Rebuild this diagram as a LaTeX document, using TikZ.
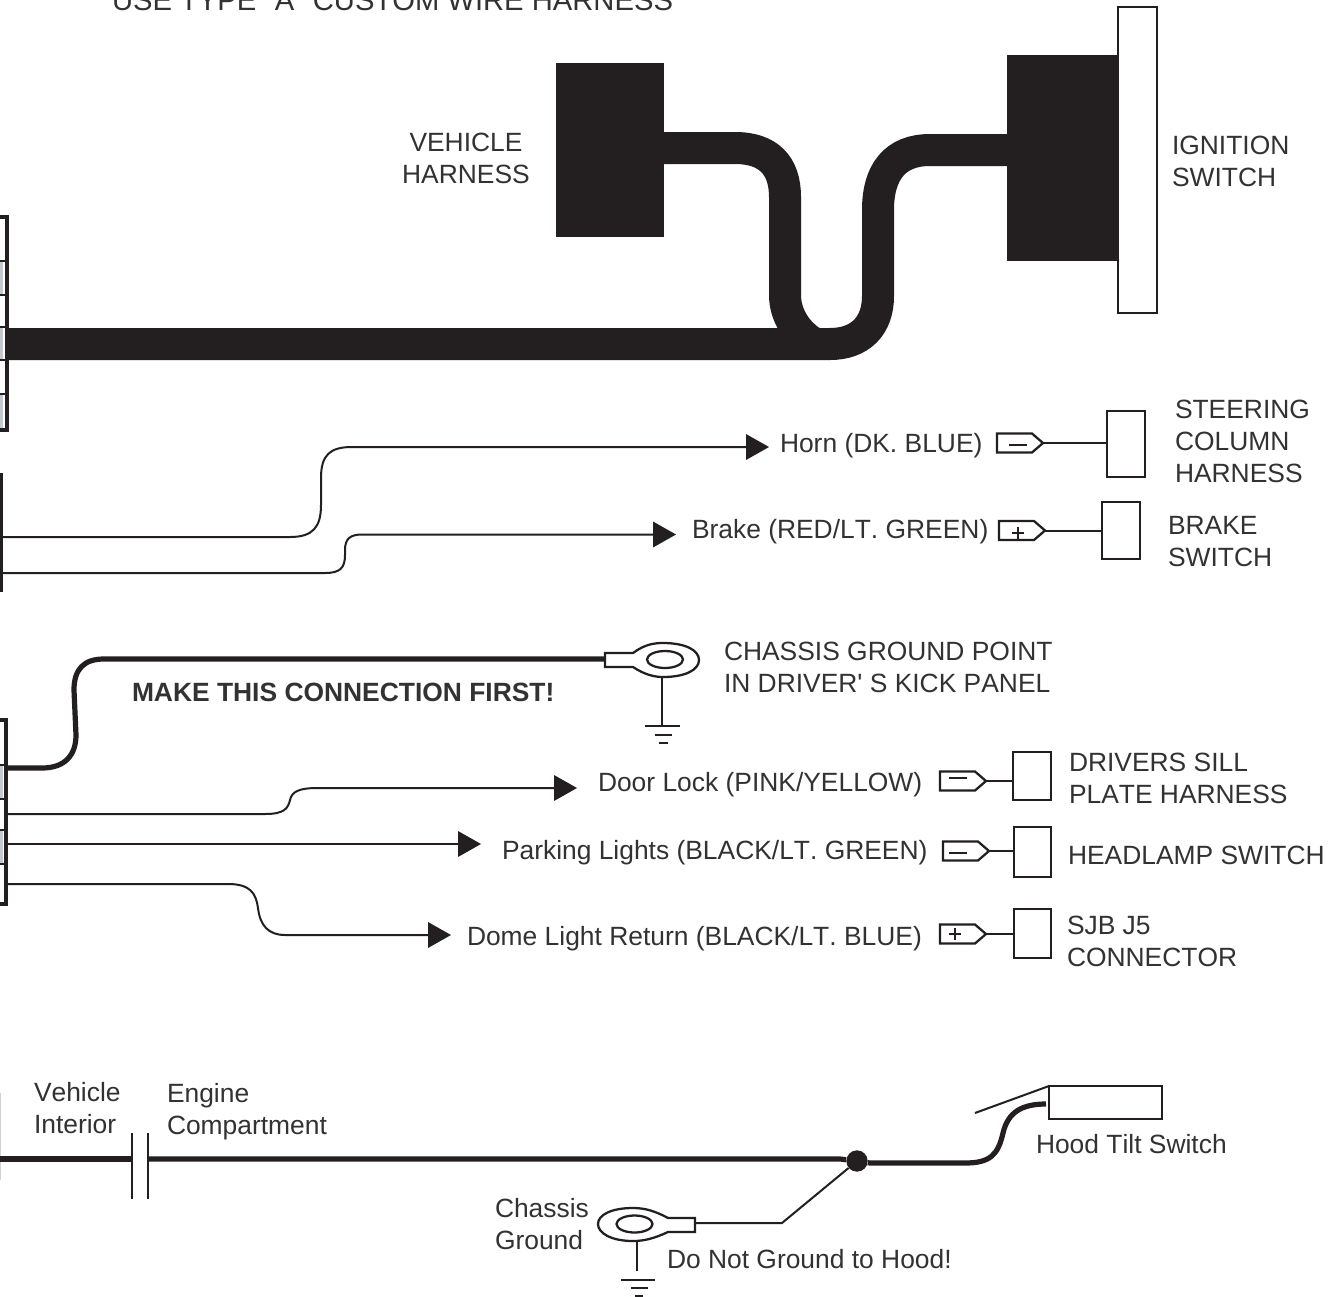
\documentclass[tikz,border=0pt]{standalone}
\usepackage{fontspec}
\setmainfont[Kerning=Off]{Liberation Sans}
\newfontfamily\plainf[Kerning=Off]{Liberation Sans}
\definecolor{ink}{HTML}{231F20}
\definecolor{txt}{HTML}{333132}
\definecolor{cell}{HTML}{C3C8D3}
\tikzset{
  lbl/.style={anchor=base west,inner sep=0pt,outer sep=0pt,align=left,text=txt,font=\fontsize{19.8}{24}\selectfont},
  wire/.style={draw=ink,line width=1.9pt},
  thin wire/.style={draw=ink,line width=1.5pt},
  fat wire/.style={draw=ink,line width=3.9pt},
  harness/.style={draw=ink,line width=24pt},
  block/.style={fill=ink,draw=none,inner sep=0pt,outer sep=0pt},
  outline/.style={draw=ink,fill=white,line width=1.8pt,inner sep=0pt,outer sep=0pt},
  arrowhd/.style={fill=ink,draw=none},
  conn/.style={draw=ink,line width=3pt},
  cellbox/.style={fill=cell,draw=none},
  sym/.style={draw=ink,line width=1.7pt,fill=white,line join=miter},
}
\newcommand{\boxnode}[5]{\node[#1,minimum width=#4*0.75pt,minimum height=#5*0.75pt] (#2) at #3 {};}
\newcommand{\plugsym}[2]{% name, tip position
  \coordinate (#1) at #2;
  \draw[sym] (#1) ++(-46,0) ++(0,-9.5) coordinate (#1a) -- ++(35,0) -- (#1) -- ++(-11,9.5) -- ++(-35,0) -- cycle;
}
\begin{document}
\begin{tikzpicture}[x=0.75pt,y=-0.75pt]
\useasboundingbox (0,0) rectangle (1340,1297);
\fill[white] (0,0) rectangle (1340,1297);

% title
\node[lbl,font=\fontsize{21.9}{24}\selectfont] (title) at (112,10) {USE TYPE {\plainf "}A{\plainf "} CUSTOM WIRE HARNESS};

% top harness
\boxnode{block}{vehicle}{(610,150)}{108}{174}
\boxnode{block}{ignblock}{(1062,158)}{110}{206}
\boxnode{outline}{ignition}{(1137.5,160)}{39}{306}
\coordinate (leftA) at (8,344);
\coordinate (vehout) at (664,148);
\coordinate (ignout) at (1007,150);
\draw[harness] (leftA) -- (830,344) .. controls (860,344) and (878,326) .. (878,296) -- (878,210)
  .. controls (878,172) and (895,150) .. (930,150) -- (ignout);
\draw[harness] (vehout) -- (735,148) .. controls (768,148) and (785,165) .. (785,197) -- (785,295)
  .. controls (785,315) and (797,334) .. (815,344);

% connector A
\fill[cellbox] (0,262) rectangle (3,295);
\fill[cellbox] (0,328) rectangle (3,360);
\fill[cellbox] (0,395) rectangle (3,428);
\draw[conn,line cap=butt] (-3,217) -- (6.5,217) -- (6.5,429.5) -- (-3,429.5);
\foreach \yy in {261,295,327,360,394}{\draw[ink,line width=1.2pt] (0,\yy) -- (5,\yy);}

% connector B
\draw[ink,line width=2pt] (1.5,473) -- (1.5,592);
\coordinate (b1) at (3,537);
\coordinate (b2) at (3,573);

% connector C
\fill[cellbox] (0,765) rectangle (3,799);
\fill[cellbox] (0,830) rectangle (3,864);
\draw[conn,line cap=butt] (-3,720) -- (6,720) -- (6,904) -- (-3,904);
\foreach \yy in {765,799,830,864}{\draw[ink,line width=1pt] (0,\yy) -- (5,\yy);}
\coordinate (c0) at (8,768);
\coordinate (c1) at (8,814);
\coordinate (c2) at (8,844);
\coordinate (c3) at (8,884);

% arrow heads
\coordinate (hornA) at (746,447);
\coordinate (brakeA) at (653,534.5);
\coordinate (doorA) at (554,788);
\coordinate (parkA) at (458,844);
\coordinate (domeA) at (428,935);
\foreach \p in {hornA,brakeA,doorA,parkA,domeA}{
  \fill[arrowhd] (\p) ++(0,-13) -- ++(23,13) -- ++(-23,13) -- cycle;}

% signal wires
\draw[thin wire] (b1) -- (290,537) .. controls (313,537) and (321,527) .. (321,505) -- (321,478)
  .. controls (321,455) and (330,447) .. (352,447) -- (hornA);
\draw[thin wire] (b2) -- (325,573) .. controls (340,573) and (345,568) .. (345,555) -- (345,550)
  .. controls (345,539) and (350,534.5) .. (362,534.5) -- (brakeA);
\draw[thin wire] (c1) -- (265,814) .. controls (285,814) and (288,808) .. (290,800)
  .. controls (292,791) and (300,788) .. (318,788) -- (doorA);
\draw[thin wire] (c2) -- (parkA);
\draw[thin wire] (c3) -- (228,884) .. controls (250,884) and (256,893) .. (258,908)
  .. controls (260,925) and (268,935) .. (285,935) -- (domeA);

% ground lug top
\coordinate (lugA) at (605,659);
\draw[fat wire] (c0) -- (42,768) .. controls (65,768) and (76,755) .. (76,735) -- (74,690)
  .. controls (74,669) and (84,659) .. (104,659) -- (lugA);
\draw[sym] (605,653) -- (633,653) .. controls (645,644) and (655,643) .. (663,643)
  .. controls (685,643) and (699,650) .. (699,660) .. controls (699,670) and (685,677) .. (663,677)
  .. controls (655,677) and (645,675) .. (633,667) -- (605,667) -- cycle;
\draw[sym] (665,659.5) ellipse [x radius=18,y radius=8.5];
\coordinate (gA) at (662,678);
\coordinate (gB) at (662,726);
\draw[thin wire] (gA) -- (gB);
\draw[thin wire] (645,726) -- (680,726);
\draw[thin wire] (655,734.5) -- (672,734.5);
\draw[thin wire] (659,743) -- (668,743);

% terminals and boxes
\plugsym{hornP}{(1043,443)}
\plugsym{brakeP}{(1045,530.5)}
\plugsym{doorP}{(986,781)}
\plugsym{parkP}{(989,851)}
\plugsym{domeP}{(986,934)}
\boxnode{outline}{steer}{(1126,444)}{38}{66}
\boxnode{outline}{brakesw}{(1121,530.5)}{38}{57}
\boxnode{outline}{sill}{(1032,776)}{38}{48}
\boxnode{outline}{head}{(1032.5,852)}{37}{50}
\boxnode{outline}{sjb}{(1032.5,933.5)}{37}{49}
\draw[thin wire] (hornP) -- (hornP -| steer.west);
\draw[thin wire] (brakeP) -- (brakeP -| brakesw.west);
\draw[thin wire] (doorP) -- (doorP -| sill.west);
\draw[thin wire] (parkP) -- (parkP -| head.west);
\draw[thin wire] (domeP) -- (domeP -| sjb.west);
% minus / plus signs
\draw[ink,line width=2pt] (1009,445) -- (1027,445);
\draw[ink,line width=.8pt] (1012,533) -- (1024,533) (1018,527) -- (1018,539);
\draw[ink,line width=2pt] (949,778) -- (967,778);
\draw[ink,line width=2pt] (949,853) -- (967,853);
\draw[ink,line width=.8pt] (949,934) -- (961,934) (955,928) -- (955,940);

% bottom
\draw[gray!35,line width=.8pt] (0,1093) -- (0,1180);
\coordinate (bL) at (0,1159);
\coordinate (capL) at (132,1159);
\coordinate (capR) at (148,1159);
\node[circle,fill=ink,inner sep=0pt,minimum size=16pt] (junction) at (857,1161) {};
\boxnode{outline}{hood}{(1105.5,1102.5)}{113}{33}
\draw[fat wire] (bL) -- (capL);
\draw[fat wire] (capR) -- (840,1159) -- (junction);
\draw[thin wire] (132,1133) -- (132,1199);
\draw[thin wire] (148,1133) -- (148,1199);
\coordinate (hoodW) at (1046,1104);
\draw[fat wire] (junction) -- (870,1163) -- (965,1163) .. controls (990,1163) and (998,1155) .. (1003,1133)
  .. controls (1008,1112) and (1022,1104) .. (hoodW);
\draw[thin wire] (975,1113) -- (hood.north west);

% lower lug
\coordinate (lugB) at (695,1223);
\draw[thin wire] (lugB) -- (782,1223) -- (junction);
\draw[sym] (695,1218) -- (668,1218) .. controls (655,1211) and (645,1208) .. (633,1208)
  .. controls (611,1208) and (598,1215) .. (598,1224) .. controls (598,1233) and (611,1241) .. (633,1241)
  .. controls (645,1241) and (655,1238) .. (668,1232) -- (695,1232) -- cycle;
\draw[sym] (634.5,1224) ellipse [x radius=18,y radius=8.5];
\draw[thin wire] (637,1241) -- (637,1271);
\draw[thin wire] (621,1280) -- (655,1280);
\draw[thin wire] (631,1288) -- (648,1288);
\draw[thin wire] (635,1296) -- (643,1296);

% labels (a node's base is its last line)
\node[lbl,align=center,anchor=base] (lVeh) at (466,183) {VEHICLE\\HARNESS};
\node[lbl] (lIgn) at (1172,186) {IGNITION\\SWITCH};
\node[lbl] (lHorn) at (780,452) {Horn (DK. BLUE)};
\node[lbl] (lBrake) at (692,538) {Brake (RED/LT. GREEN)};
\node[lbl] (lSteer) at (1175,482) {STEERING\\COLUMN\\HARNESS};
\node[lbl] (lBrSw) at (1168,566) {BRAKE\\SWITCH};
\node[lbl] (lCh) at (724,692) {CHASSIS GROUND POINT\\IN DRIVER{\plainf '} S KICK PANEL};
\node[lbl,font=\fontsize{19.8}{22}\selectfont\bfseries] (lFirst) at (132,701) {MAKE THIS CONNECTION FIRST!};
\node[lbl] (lDoor) at (598,791) {Door Lock (PINK/YELLOW)};
\node[lbl] (lPark) at (502,859) {Parking Lights (BLACK/LT. GREEN)};
\node[lbl] (lDome) at (467,945) {Dome Light Return (BLACK/LT. BLUE)};
\node[lbl] (lSill) at (1069,803) {DRIVERS SILL\\PLATE HARNESS};
\node[lbl] (lHead) at (1068,864) {HEADLAMP SWITCH};
\node[lbl] (lSjb) at (1067,966) {SJB J5\\CONNECTOR};
\node[lbl] (lInt) at (34,1133) {Vehicle\\Interior};
\node[lbl] (lEng) at (167,1134) {Engine\\Compartment};
\node[lbl] (lHood) at (1036,1153) {Hood Tilt Switch};
\node[lbl] (lGnd) at (495,1249) {Chassis\\Ground};
\node[lbl] (lNo) at (667,1268) {Do Not Ground to Hood!};
\end{tikzpicture}
\end{document}
